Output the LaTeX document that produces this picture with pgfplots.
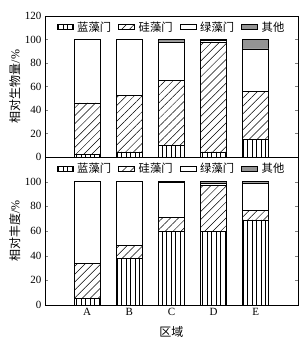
\documentclass[border=0pt]{standalone}
\usepackage{pgfplots}
\pgfplotsset{compat=1.18}
\usepackage{pgfplotstable}
\usepackage{fontspec}
\setmainfont{Liberation Serif}
\newfontfamily\cjk{Noto Sans CJK SC}
\usetikzlibrary{patterns.meta}

\pgfplotstableread{
x blue diatom green other
0 2 44 54 0
1 4.3 48.3 47.4 0
2 9.6 55.8 32.6 2
3 4.3 93.7 1 1
4 15 41 36 8
}\biomass

\pgfplotstableread{
x blue diatom green other
0 5 28.7 66.3 0
1 37.5 11 51.5 0
2 59.7 11.3 28.5 0.5
3 59.7 37.3 2 1
4 69 7.7 22.3 1
}\abund

\pgfplotsset{
  common/.style={
    scale only axis, width=253pt,
    ybar stacked, bar width=26pt,
    xmin=-1, xmax=5, ymin=0, ymax=120,
    xtick={0,...,4}, xtick style={draw=none},
    tick align=inside, major tick length=3pt,
    tick label style={font=\fontsize{11}{12}\selectfont},
    /pgf/number format/assume math mode=true,
    axis line style={line width=0.7pt},
    legend style={at={(0.5,0.92)}, anchor=center, draw=none, fill=none,
      legend columns=4, font=\cjk\fontsize{11.3}{12}\selectfont,
      /tikz/every odd column/.append style={column sep=2pt},
      /tikz/every even column/.append style={column sep=5pt}},
    legend image code/.code={\draw[#1,line width=0.6pt] (0pt,-2.5pt) rectangle (16pt,2.5pt);},
    every axis plot/.append style={draw=black, line width=0.7pt},
    every axis y label/.style={at={(axis description cs:-0.119,0.5)}, rotate=90, anchor=center, font=\fontsize{12}{13}\selectfont},
  },
  bluep/.style={fill=white, postaction={pattern={Lines[angle=90,distance=4.5pt,line width=0.5pt]}}},
  diap/.style={fill=white, postaction={pattern={Lines[angle=45,distance=5.6pt,line width=0.5pt]}}},
  greenp/.style={fill=white},
  otherp/.style={fill=black!42},
}

\begin{document}
\begin{tikzpicture}
\useasboundingbox (0,0) rectangle (307pt,341pt);
\begin{axis}[common, at={(45pt,184pt)}, anchor=south west, height=141pt,
  ytick={0,20,...,120}, xticklabels={},
  ylabel={{\cjk 相对生物量}/\%}]
\addplot[bluep] table[x=x,y=blue]{\biomass};
\addplot[diap] table[x=x,y=diatom]{\biomass};
\addplot[greenp] table[x=x,y=green]{\biomass};
\addplot[otherp] table[x=x,y=other]{\biomass};
\legend{蓝藻门,硅藻门,绿藻门,其他}
\end{axis}
\begin{axis}[common, at={(45pt,36pt)}, anchor=south west, height=148pt,
  ytick={0,20,...,100}, xticklabels={A,B,C,D,E},
  ylabel={{\cjk 相对丰度}/\%},
  xlabel={\cjk 区域},
  every axis x label/.style={at={(axis description cs:0.5,-0.18)}, anchor=center, font=\fontsize{12}{13}\selectfont}]
\addplot[bluep] table[x=x,y=blue]{\abund};
\addplot[diap] table[x=x,y=diatom]{\abund};
\addplot[greenp] table[x=x,y=green]{\abund};
\addplot[otherp] table[x=x,y=other]{\abund};
\legend{蓝藻门,硅藻门,绿藻门,其他}
\end{axis}
\end{tikzpicture}
\end{document}
